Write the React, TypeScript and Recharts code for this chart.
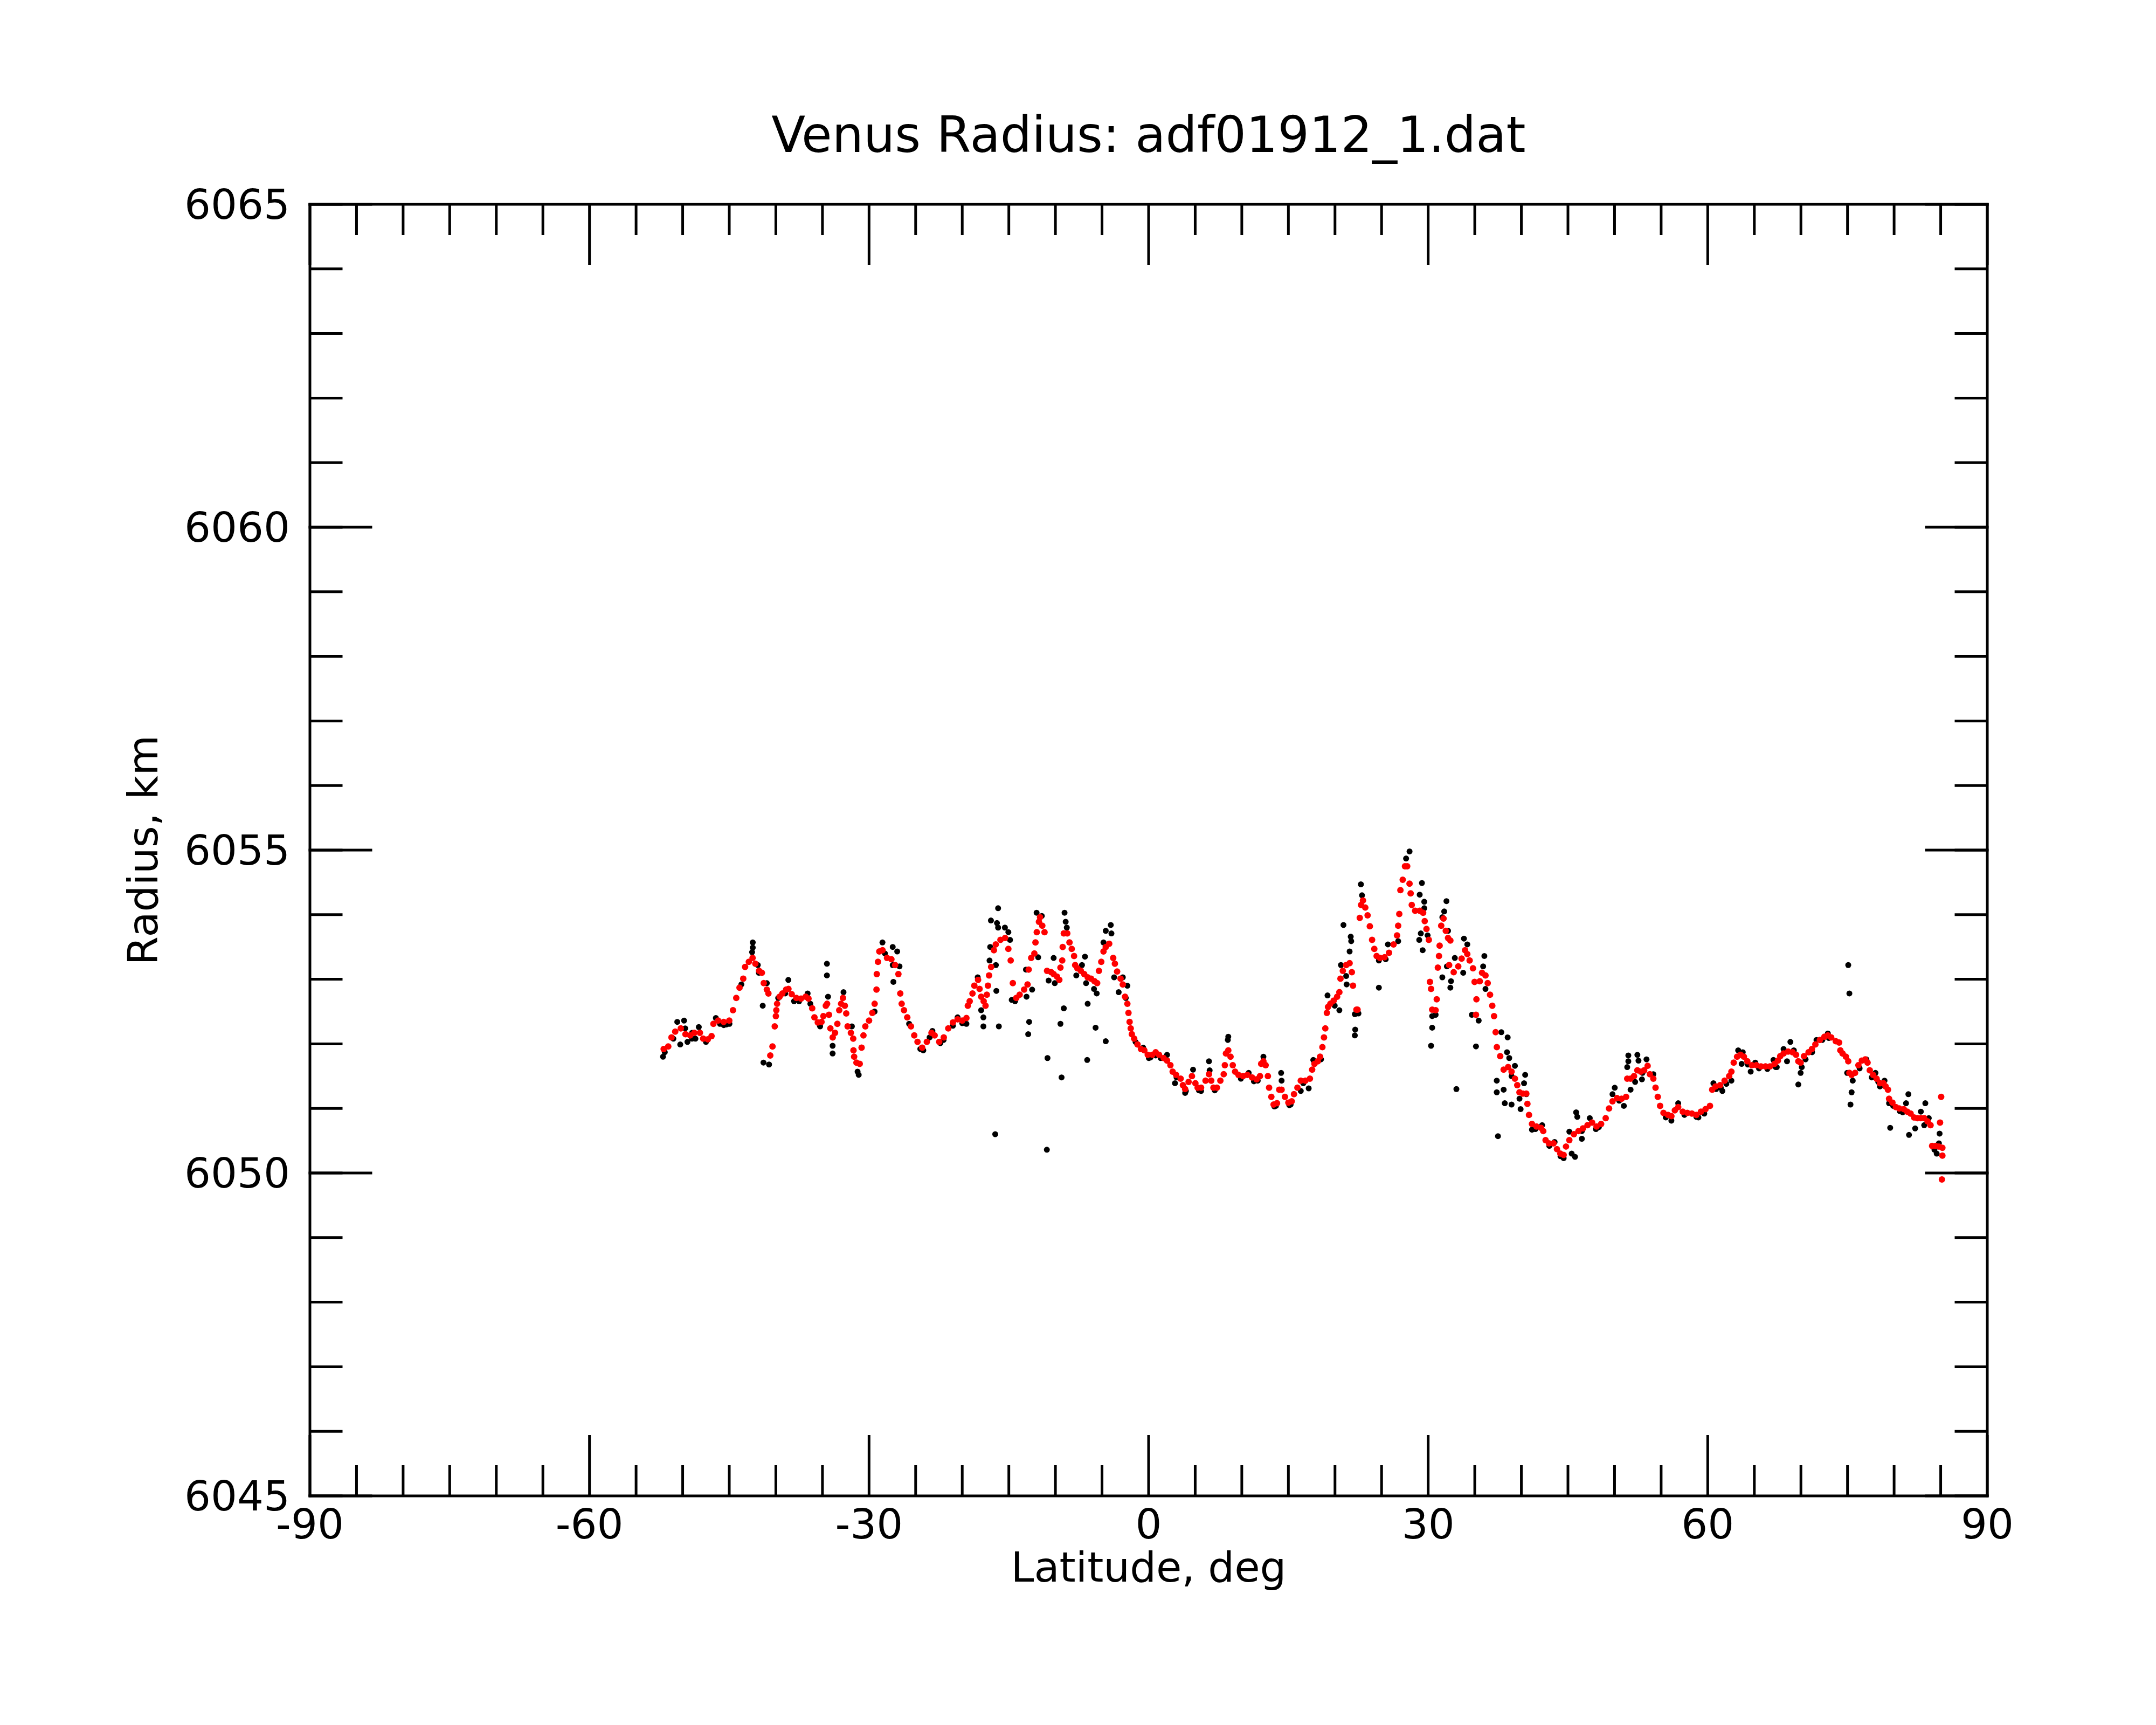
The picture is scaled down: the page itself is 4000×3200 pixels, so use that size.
import { Scatter, ScatterChart, XAxis, YAxis } from 'recharts';

// latitude (deg), radius (km)
const filteredPoints: [number, number][] = [
  [-52.04, 6051.92], [-51.55, 6051.96], [-51.2, 6052.1], [-50.8, 6052.19], [-50.2, 6052.24],
  [-49.7, 6052.15], [-49.2, 6052.13], [-48.75, 6052.17], [-48.15, 6052.17], [-47.8, 6052.08],
  [-47.3, 6052.07], [-46.9, 6052.12], [-46.7, 6052.31], [-46.2, 6052.36], [-45.6, 6052.34],
  [-45.0, 6052.36], [-44.6, 6052.52], [-44.25, 6052.71], [-43.9, 6052.87], [-43.5, 6053.01],
  [-43.3, 6053.19], [-42.9, 6053.27], [-42.5, 6053.33], [-42.2, 6053.24], [-41.8, 6053.13],
  [-41.5, 6053.1], [-41.3, 6052.94], [-40.97, 6052.84], [-40.8, 6052.78], [-40.6, 6051.82],
  [-40.36, 6051.96], [-40.12, 6052.27], [-40.0, 6052.43], [-39.95, 6052.52], [-39.87, 6052.62],
  [-39.6, 6052.73], [-39.3, 6052.78], [-38.9, 6052.84], [-38.65, 6052.85], [-38.3, 6052.77],
  [-37.8, 6052.71], [-37.3, 6052.7], [-36.8, 6052.73], [-36.5, 6052.7], [-36.1, 6052.55],
  [-35.86, 6052.41], [-35.5, 6052.33], [-35.1, 6052.34], [-34.9, 6052.43], [-34.64, 6052.59],
  [-34.5, 6052.62], [-34.3, 6052.45], [-34.15, 6052.24], [-33.9, 6052.1], [-33.65, 6052.17],
  [-33.4, 6052.31], [-33.2, 6052.52], [-33.0, 6052.62], [-32.8, 6052.71], [-32.6, 6052.59],
  [-32.45, 6052.47], [-32.3, 6052.27], [-31.95, 6052.17], [-31.7, 6052.08], [-31.67, 6051.9],
  [-31.6, 6051.8], [-31.35, 6051.71], [-31.0, 6051.69], [-30.8, 6051.94], [-30.6, 6052.13],
  [-30.4, 6052.27], [-30.0, 6052.36], [-29.65, 6052.48], [-29.4, 6052.62], [-29.2, 6052.84],
  [-29.17, 6053.08], [-29.04, 6053.27], [-28.9, 6053.43], [-28.55, 6053.45], [-28.07, 6053.33],
  [-27.6, 6053.31], [-27.2, 6053.22], [-26.85, 6053.08], [-26.65, 6052.78], [-26.5, 6052.62],
  [-26.25, 6052.52], [-25.9, 6052.41], [-25.5, 6052.27], [-25.15, 6052.13], [-24.8, 6052.03],
  [-24.3, 6051.94], [-23.8, 6052.03], [-23.3, 6052.17], [-22.96, 6052.13], [-22.47, 6052.03],
  [-21.98, 6052.1], [-21.5, 6052.24], [-21.0, 6052.33], [-20.5, 6052.38], [-20.0, 6052.36],
  [-19.55, 6052.4], [-19.4, 6052.59], [-19.2, 6052.66], [-18.9, 6052.78], [-18.7, 6052.9],
  [-18.3, 6052.99], [-18.14, 6052.85], [-17.97, 6052.73], [-17.7, 6052.66], [-17.5, 6052.59],
  [-17.36, 6052.76], [-17.24, 6052.9], [-17.12, 6053.06], [-16.9, 6053.19], [-16.6, 6053.45],
  [-16.4, 6053.54], [-15.9, 6053.61], [-15.4, 6053.64], [-15.05, 6053.47], [-14.8, 6053.29],
  [-14.57, 6052.94], [-14.2, 6052.71], [-13.84, 6052.76], [-13.36, 6052.84], [-12.99, 6052.92],
  [-12.87, 6053.15], [-12.6, 6053.33], [-12.26, 6053.4], [-12.14, 6053.57], [-12.0, 6053.73],
  [-11.77, 6053.89], [-11.65, 6053.96], [-11.41, 6053.83], [-11.17, 6053.73], [-10.9, 6053.13],
  [-10.45, 6053.11], [-10.19, 6053.08], [-9.83, 6053.04], [-9.58, 6052.99], [-9.46, 6053.18],
  [-9.27, 6053.29], [-9.22, 6053.5], [-9.1, 6053.71], [-8.73, 6053.71], [-8.49, 6053.57],
  [-8.25, 6053.47], [-8.0, 6053.36], [-7.88, 6053.22], [-7.64, 6053.17], [-7.27, 6053.13],
  [-6.91, 6053.08], [-6.54, 6053.03], [-6.18, 6053.01], [-5.81, 6052.97], [-5.52, 6052.94],
  [-5.33, 6053.13], [-5.08, 6053.27], [-4.84, 6053.43], [-4.6, 6053.5], [-4.23, 6053.55],
  [-3.8, 6053.33], [-3.62, 6053.24], [-3.38, 6053.12], [-3.01, 6053.01], [-2.77, 6052.92],
  [-2.53, 6052.73], [-2.28, 6052.62], [-2.16, 6052.48], [-2.04, 6052.34], [-1.92, 6052.24],
  [-1.8, 6052.15], [-1.55, 6052.08], [-1.19, 6051.99], [-0.82, 6051.92], [-0.46, 6051.9],
  [-0.09, 6051.83], [0.4, 6051.83], [0.76, 6051.87], [1.12, 6051.83], [1.61, 6051.78],
  [1.98, 6051.74], [2.34, 6051.67], [2.58, 6051.57], [2.95, 6051.52], [3.44, 6051.46],
  [3.68, 6051.36], [3.92, 6051.3], [4.29, 6051.41], [4.65, 6051.5], [5.02, 6051.39],
  [5.26, 6051.32], [5.63, 6051.32], [6.11, 6051.43], [6.48, 6051.53], [6.72, 6051.43],
  [6.96, 6051.32], [7.33, 6051.32], [7.7, 6051.43], [8.06, 6051.53], [8.18, 6051.67],
  [8.3, 6051.85], [8.55, 6051.9], [8.79, 6051.8], [9.03, 6051.67], [9.28, 6051.57],
  [9.64, 6051.52], [10.13, 6051.5], [10.6, 6051.52], [11.1, 6051.48], [11.59, 6051.45],
  [11.95, 6051.5], [12.08, 6051.69], [12.32, 6051.73], [12.56, 6051.67], [12.8, 6051.5],
  [12.93, 6051.32], [13.17, 6051.18], [13.41, 6051.06], [13.78, 6051.08], [14.02, 6051.29],
  [14.27, 6051.29], [14.63, 6051.18], [15.0, 6051.09], [15.36, 6051.11], [15.6, 6051.22],
  [15.97, 6051.32], [16.33, 6051.43], [16.82, 6051.43], [17.31, 6051.46], [17.55, 6051.6],
  [17.8, 6051.69], [18.16, 6051.73], [18.4, 6051.8], [18.65, 6051.95], [18.82, 6052.1],
  [18.96, 6052.24], [19.13, 6052.48], [19.25, 6052.57], [19.5, 6052.62], [19.86, 6052.67],
  [20.23, 6052.73], [20.47, 6052.8], [20.59, 6053.01], [20.84, 6053.13], [21.2, 6053.22],
  [21.57, 6053.25], [21.81, 6053.11], [21.93, 6052.9], [22.3, 6052.53], [22.42, 6052.53],
  [22.66, 6053.95], [22.8, 6054.15], [23.0, 6054.22], [23.25, 6054.11], [23.5, 6053.99],
  [23.74, 6053.82], [23.98, 6053.61], [24.22, 6053.47], [24.47, 6053.36], [24.83, 6053.33],
  [25.32, 6053.34], [25.8, 6053.41], [26.29, 6053.54], [26.66, 6053.68], [26.78, 6053.83],
  [26.9, 6054.01], [27.02, 6054.38], [27.27, 6054.54], [27.51, 6054.75], [27.75, 6054.75],
  [28.0, 6054.48], [28.12, 6054.33], [28.24, 6054.15], [28.6, 6054.06], [29.09, 6054.06],
  [29.46, 6054.03], [29.63, 6053.9], [29.82, 6053.78], [30.07, 6053.61], [30.19, 6052.96],
  [30.31, 6052.85], [30.43, 6052.53], [30.8, 6052.52], [30.92, 6052.69], [31.04, 6053.18],
  [31.16, 6053.36], [31.23, 6053.52], [31.4, 6053.83], [31.65, 6053.94], [31.89, 6053.75],
  [32.13, 6053.64], [32.38, 6053.6], [32.25, 6053.22], [32.74, 6053.11], [33.23, 6053.2],
  [33.59, 6053.32], [33.96, 6053.45], [34.2, 6053.39], [34.45, 6053.29], [34.81, 6053.17],
  [34.98, 6052.96], [35.18, 6052.69], [35.13, 6052.45], [35.54, 6052.97], [35.78, 6053.1],
  [36.15, 6053.06], [36.39, 6052.94], [36.64, 6052.76], [36.88, 6052.59], [37.07, 6052.43],
  [37.24, 6052.18], [37.37, 6051.95], [37.73, 6051.81], [38.1, 6051.6], [38.58, 6051.64],
  [38.95, 6051.57], [39.31, 6051.46], [39.56, 6051.36], [39.8, 6051.25], [40.16, 6051.23],
  [40.53, 6051.23], [40.65, 6051.07], [40.82, 6050.9], [41.14, 6050.76], [41.62, 6050.72],
  [42.11, 6050.7], [42.35, 6050.65], [42.6, 6050.51], [42.96, 6050.46], [43.45, 6050.46],
  [43.82, 6050.37], [44.18, 6050.3], [44.54, 6050.28], [44.79, 6050.41], [45.15, 6050.51],
  [45.64, 6050.6], [46.13, 6050.65], [46.61, 6050.69], [47.1, 6050.74], [47.59, 6050.78],
  [48.07, 6050.72], [48.56, 6050.76], [49.05, 6050.85], [49.41, 6051.0], [49.78, 6051.11],
  [50.26, 6051.16], [50.75, 6051.15], [51.24, 6051.18], [51.36, 6051.46], [51.72, 6051.46],
  [52.09, 6051.5], [52.45, 6051.59], [52.82, 6051.57], [53.18, 6051.59], [53.55, 6051.66],
  [53.79, 6051.53], [54.16, 6051.46], [54.4, 6051.32], [54.64, 6051.18], [54.89, 6051.04],
  [55.25, 6050.93], [55.74, 6050.9], [56.1, 6050.88], [56.47, 6050.97], [56.83, 6051.02],
  [57.32, 6050.95], [57.81, 6050.93], [58.3, 6050.92], [58.78, 6050.9], [59.27, 6050.95],
  [59.76, 6050.99], [60.24, 6051.04], [60.48, 6051.29], [60.84, 6051.34], [61.33, 6051.36],
  [61.81, 6051.43], [62.3, 6051.5], [62.54, 6051.57], [62.79, 6051.71], [63.15, 6051.8],
  [63.52, 6051.83], [63.88, 6051.8], [64.25, 6051.73], [64.73, 6051.67], [65.22, 6051.67],
  [65.71, 6051.65], [66.2, 6051.65], [66.68, 6051.65], [67.17, 6051.69], [67.53, 6051.74],
  [67.78, 6051.81], [68.14, 6051.85], [68.63, 6051.88], [69.11, 6051.87], [69.48, 6051.83],
  [69.72, 6051.73], [69.97, 6051.71], [70.33, 6051.81], [70.82, 6051.87], [71.18, 6051.92],
  [71.55, 6051.99], [72.03, 6052.06], [72.52, 6052.11], [72.89, 6052.13], [73.25, 6052.1],
  [73.74, 6052.04], [74.1, 6052.02], [74.23, 6051.9], [74.47, 6051.85], [74.83, 6051.8],
  [75.08, 6051.73], [75.2, 6051.55], [75.44, 6051.52], [75.81, 6051.55], [76.17, 6051.67],
  [76.54, 6051.74], [76.9, 6051.76], [77.15, 6051.71], [77.39, 6051.59], [77.75, 6051.52],
  [78.12, 6051.46], [78.48, 6051.39], [78.85, 6051.39], [79.09, 6051.34], [79.34, 6051.29],
  [79.46, 6051.15], [79.82, 6051.09], [80.19, 6051.02], [80.55, 6051.0], [81.04, 6050.99],
  [81.41, 6050.95], [81.77, 6050.92], [82.14, 6050.86], [82.5, 6050.85], [82.87, 6050.85],
  [83.23, 6050.85], [83.6, 6050.8], [83.91, 6050.74], [84.08, 6050.42], [84.45, 6050.42],
  [84.81, 6050.41], [85.05, 6051.18], [84.93, 6050.78], [85.18, 6050.39], [85.18, 6050.27],
  [85.13, 6049.9],
];

const rawPoints: [number, number][] = [
  [-52.11, 6051.8], [-51.92, 6051.87], [-51.0, 6052.08], [-50.58, 6052.34], [-49.85, 6052.36],
  [-50.26, 6051.99], [-49.49, 6052.03], [-49.73, 6052.24], [-48.99, 6052.17], [-49.0, 6052.08],
  [-48.27, 6052.26], [-48.63, 6052.08], [-47.5, 6052.03], [-46.44, 6052.4], [-46.0, 6052.31],
  [-45.59, 6052.29], [-45.3, 6052.3], [-44.98, 6052.31], [-43.7, 6052.92], [-42.48, 6053.57],
  [-42.48, 6053.49], [-42.55, 6053.42], [-41.94, 6053.22], [-41.82, 6053.1], [-40.97, 6052.94],
  [-41.41, 6052.59], [-41.33, 6051.71], [-40.73, 6051.68], [-39.75, 6052.71], [-39.0, 6052.78],
  [-38.66, 6052.99], [-38.05, 6052.66], [-37.5, 6052.66], [-36.59, 6052.78], [-36.3, 6052.62],
  [-35.3, 6052.29], [-35.25, 6052.27], [-34.52, 6053.24], [-34.52, 6053.06], [-34.4, 6052.73],
  [-33.91, 6051.97], [-33.91, 6051.85], [-32.74, 6052.8], [-31.84, 6052.27], [-31.23, 6051.57],
  [-31.11, 6051.52], [-29.41, 6052.5], [-28.56, 6053.57], [-28.3, 6053.4], [-27.46, 6053.5],
  [-26.98, 6053.43], [-27.46, 6053.22], [-27.39, 6052.96], [-26.73, 6053.2], [-25.7, 6052.31],
  [-24.5, 6051.92], [-24.18, 6051.9], [-23.5, 6052.1], [-23.2, 6052.2], [-22.35, 6052.01],
  [-22.0, 6052.06], [-21.0, 6052.28], [-20.5, 6052.41], [-20.0, 6052.32], [-19.55, 6052.31],
  [-18.34, 6053.03], [-17.97, 6052.52], [-17.73, 6052.41], [-17.73, 6052.27], [-17.0, 6053.5],
  [-17.07, 6053.29], [-16.39, 6053.22], [-16.92, 6053.91], [-16.15, 6054.1], [-16.27, 6053.87],
  [-16.15, 6053.8], [-15.42, 6053.8], [-15.05, 6053.73], [-16.34, 6052.82], [-16.07, 6052.27],
  [-16.46, 6050.6], [-14.69, 6052.68], [-14.87, 6053.61], [-14.33, 6052.66], [-13.1, 6052.73],
  [-12.5, 6052.84], [-12.82, 6052.34], [-12.92, 6052.15], [-13.16, 6053.15], [-12.02, 6054.03],
  [-11.46, 6053.98], [-11.85, 6053.34], [-10.85, 6051.78], [-10.92, 6050.36], [-10.73, 6052.98],
  [-10.07, 6052.94], [-10.19, 6053.33], [-9.34, 6051.48], [-9.46, 6052.31], [-9.1, 6052.55],
  [-9.02, 6054.03], [-8.9, 6053.89], [-8.78, 6053.8], [-7.76, 6053.06], [-7.15, 6053.22],
  [-6.83, 6053.35], [-6.71, 6052.94], [-6.54, 6052.62], [-6.59, 6051.75], [-5.86, 6052.85],
  [-5.57, 6052.78], [-5.69, 6052.25], [-4.6, 6052.04], [-4.6, 6053.75], [-4.06, 6053.84],
  [-3.99, 6053.71], [-4.84, 6053.57], [-3.7, 6053.03], [-3.21, 6052.8], [-2.77, 6053.03],
  [-2.28, 6052.9], [-2.45, 6052.71], [-1.4, 6052.03], [-0.58, 6051.94], [0.03, 6051.78],
  [0.2, 6051.79], [0.76, 6051.82], [1.3, 6051.78], [1.98, 6051.83], [2.83, 6051.39],
  [3.0, 6051.48], [3.92, 6051.24], [4.0, 6051.27], [4.77, 6051.6], [5.4, 6051.28],
  [5.63, 6051.27], [6.48, 6051.73], [6.55, 6051.59], [7.1, 6051.28], [7.21, 6051.31],
  [8.5, 6052.06], [8.55, 6052.11], [9.9, 6051.46], [10.74, 6051.55], [11.3, 6051.42],
  [11.71, 6051.43], [12.32, 6051.8], [13.5, 6051.03], [13.66, 6051.04], [14.22, 6051.55],
  [14.27, 6051.43], [15.1, 6051.05], [15.24, 6051.06], [16.33, 6051.27], [16.6, 6051.39],
  [17.18, 6051.31], [17.67, 6051.75], [18.5, 6051.76], [19.2, 6052.75], [19.97, 6052.59],
  [20.47, 6052.52], [20.91, 6053.84], [21.69, 6053.66], [21.74, 6053.59], [21.57, 6053.43],
  [20.64, 6053.22], [21.2, 6053.05], [21.25, 6052.92], [22.13, 6052.46], [22.17, 6052.22],
  [22.13, 6052.13], [22.78, 6054.47], [22.9, 6054.3], [22.52, 6052.47], [24.71, 6052.87],
  [24.71, 6053.29], [25.44, 6053.31], [25.68, 6053.54], [26.78, 6053.59], [28.0, 6054.98],
  [27.63, 6054.87], [29.33, 6054.49], [29.09, 6054.31], [29.58, 6054.2], [29.58, 6054.1],
  [29.21, 6053.71], [29.04, 6053.61], [29.41, 6053.45], [29.94, 6053.68], [30.43, 6052.43],
  [30.8, 6052.45], [30.43, 6052.25], [30.31, 6051.97], [31.96, 6054.21], [31.72, 6054.05],
  [31.52, 6053.96], [32.13, 6053.75], [31.52, 6053.03], [32.01, 6053.2], [32.38, 6052.87],
  [32.45, 6052.97], [32.86, 6053.33], [33.03, 6051.3], [33.84, 6053.63], [34.2, 6053.54],
  [33.76, 6053.1], [36.03, 6053.36], [35.9, 6053.2], [36.15, 6052.85], [34.69, 6052.45],
  [35.42, 6052.36], [35.13, 6051.96], [37.49, 6050.57], [37.36, 6051.43], [37.36, 6051.25],
  [37.85, 6052.18], [38.53, 6052.1], [38.46, 6051.87], [38.7, 6051.78], [38.1, 6051.29],
  [38.22, 6051.08], [38.95, 6051.06], [39.31, 6051.66], [38.95, 6051.5], [39.8, 6051.15],
  [39.92, 6050.99], [40.41, 6051.52], [40.29, 6051.39], [40.53, 6051.22], [41.14, 6050.67],
  [41.5, 6050.68], [42.23, 6050.74], [43.0, 6050.42], [43.57, 6050.48], [44.2, 6050.26],
  [44.54, 6050.23], [45.4, 6050.3], [45.76, 6050.25], [45.15, 6050.64], [45.88, 6050.94],
  [46.0, 6050.87], [46.49, 6050.53], [46.5, 6050.65], [47.34, 6050.85], [48.0, 6050.68],
  [48.32, 6050.71], [49.78, 6051.22], [50.02, 6051.32], [50.5, 6051.12], [51.0, 6051.04],
  [51.48, 6051.82], [51.48, 6051.73], [51.36, 6051.64], [52.45, 6051.83], [52.57, 6051.74],
  [53.43, 6051.76], [52.21, 6051.41], [51.72, 6051.29], [52.94, 6051.45], [53.0, 6051.55],
  [54.16, 6051.53], [55.5, 6050.86], [56.1, 6050.81], [56.83, 6051.08], [57.5, 6050.9],
  [58.78, 6050.87], [59.0, 6050.86], [59.63, 6050.92], [60.61, 6051.39], [60.9, 6051.3],
  [61.4, 6051.32], [61.57, 6051.27], [62.0, 6051.38], [62.54, 6051.43], [63.27, 6051.9],
  [63.76, 6051.87], [63.64, 6051.69], [64.3, 6051.68], [64.61, 6051.57], [65.1, 6051.71],
  [65.5, 6051.62], [66.4, 6051.61], [67.05, 6051.75], [67.3, 6051.64], [67.41, 6051.64],
  [68.14, 6051.92], [68.51, 6051.73], [68.87, 6052.03], [69.24, 6051.9], [69.97, 6051.55],
  [69.72, 6051.37], [70.09, 6051.64], [70.5, 6051.76], [71.2, 6051.87], [71.67, 6052.06],
  [72.3, 6052.06], [72.89, 6052.16], [73.0, 6052.09], [75.08, 6053.22], [75.2, 6052.78],
  [74.96, 6051.55], [75.44, 6051.25], [75.32, 6051.06], [75.56, 6051.43], [76.3, 6051.62],
  [77.02, 6051.76], [77.6, 6051.48], [78.0, 6051.55], [78.3, 6051.41], [78.48, 6051.34],
  [78.97, 6051.43], [79.58, 6050.7], [79.46, 6051.08], [79.9, 6051.04], [80.6, 6050.96],
  [80.92, 6050.94], [81.53, 6051.22], [81.28, 6051.08], [81.6, 6050.59], [82.26, 6050.69],
  [82.87, 6050.95], [83.35, 6051.08], [83.23, 6050.74], [83.72, 6050.85], [84.88, 6050.61],
  [84.81, 6050.46], [84.57, 6050.3], [84.33, 6050.36],
];

const latTicks = [-90, -60, -30, 0, 30, 60, 90];
const latMinorTicks = [
  -90, -85, -80, -75, -70, -65, -60, -55, -50, -45, -40, -35, -30, -25, -20, -15, -10, -5, 0,
  5, 10, 15, 20, 25, 30, 35, 40, 45, 50, 55, 60, 65, 70, 75, 80, 85, 90,
];
const radiusTicks = [6045, 6050, 6055, 6060, 6065];
const radiusMinorTicks = [
  6045, 6046, 6047, 6048, 6049, 6050, 6051, 6052, 6053, 6054, 6055, 6056, 6057, 6058, 6059,
  6060, 6061, 6062, 6063, 6064, 6065,
];

const filtered = filteredPoints.map(([lat, radius]) => ({ lat, radius }));
const raw = rawPoints.map(([lat, radius]) => ({ lat, radius }));

const FONT = 'DejaVu Sans';
const MARGIN = { top: 379, right: 313, bottom: 225, left: 175 };
const X_TICK_MARGIN = 24;
const MINOR_LEN = 57;
const MAJOR_LEN = 113;
const ink = { stroke: '#000', strokeWidth: 5, strokeLinecap: 'square' as const };
const tickFont = { fill: '#000', fontSize: 77, fontFamily: FONT };
const noLabel = () => <g />;

// bottom axis tick: inward tick marks on both frame edges, label on the majors
const LatTick = (props: any) => {
  const { x, y, payload } = props;
  const value = payload.value as number;
  const major = latTicks.includes(value);
  const len = major ? MAJOR_LEN : MINOR_LEN;
  const bottom = y - X_TICK_MARGIN;
  const top = MARGIN.top;
  return (
    <g>
      <line x1={x} x2={x} y1={bottom} y2={bottom - len} stroke="#000" strokeWidth={5} />
      <line x1={x} x2={x} y1={top} y2={top + len} stroke="#000" strokeWidth={5} />
      {major && (
        <text x={x} y={y} dy="0.71em" textAnchor="middle" fontSize={77} fontFamily={FONT} fill="#000">
          {value}
        </text>
      )}
    </g>
  );
};

const radiusLabel = (props: any) => {
  const vb = props.viewBox ?? { x: 175, y: 379, width: 400, height: 2396 };
  const cx = vb.x + 117;
  const cy = vb.y + vb.height / 2;
  return (
    <text
      x={cx}
      y={cy}
      transform={`rotate(-90 ${cx} ${cy})`}
      textAnchor="middle"
      fontSize={77}
      fontFamily={FONT}
      fill="#000"
    >
      Radius, km
    </text>
  );
};

const dot = (r: number, color: string) => (p: any) => (
  <circle cx={p.cx} cy={p.cy} r={r} fill={color} />
);

export default function App() {
  return (
    <div
      style={{
        position: 'absolute',
        left: 0,
        top: 0,
        width: 4000,
        height: 3200,
        background: '#fff',
        fontFamily: FONT,
      }}
    >
      <ScatterChart width={4000} height={3200} margin={MARGIN}>
        <XAxis
          xAxisId="lat"
          dataKey="lat"
          type="number"
          domain={[-90, 90]}
          allowDataOverflow
          ticks={latMinorTicks}
          interval={0}
          height={200}
          stroke="#000"
          axisLine={ink}
          tickLine={false}
          tickSize={0}
          tickMargin={X_TICK_MARGIN}
          tick={LatTick}
          label={{ value: 'Latitude, deg', position: 'insideBottom', offset: 41, fontSize: 77, fill: '#000', fontFamily: FONT }}
        />
        <XAxis
          xAxisId="latTop"
          type="number"
          domain={[-90, 90]}
          allowDataOverflow
          ticks={latTicks}
          interval={0}
          orientation="top"
          mirror
          height={1}
          axisLine={ink}
          tickLine={false}
          tick={noLabel}
          label={{ value: 'Venus Radius: adf01912_1.dat', position: 'top', offset: 97, fontSize: 92, fill: '#000', fontFamily: FONT }}
        />

        <YAxis
          yAxisId="radius"
          dataKey="radius"
          type="number"
          domain={[6045, 6065]}
          allowDataOverflow
          ticks={radiusTicks}
          interval={0}
          width={400}
          stroke="#000"
          axisLine={ink}
          tickLine={false}
          tickSize={0}
          tickMargin={37}
          tick={tickFont}
          label={radiusLabel}
        />
        <YAxis yAxisId="radMinorL" type="number" domain={[6045, 6065]} allowDataOverflow ticks={radiusMinorTicks} interval={0}
          orientation="left" mirror width={1} axisLine={false} tickLine={ink} tickSize={MINOR_LEN} tick={noLabel} />
        <YAxis yAxisId="radMajorL" type="number" domain={[6045, 6065]} allowDataOverflow ticks={radiusTicks} interval={0}
          orientation="left" mirror width={1} axisLine={false} tickLine={ink} tickSize={MAJOR_LEN} tick={noLabel} />
        <YAxis yAxisId="radMajorR" type="number" domain={[6045, 6065]} allowDataOverflow ticks={radiusTicks} interval={0}
          orientation="right" mirror width={1} axisLine={ink} tickLine={ink} tickSize={MAJOR_LEN} tick={noLabel} />
        <YAxis yAxisId="radMinorR" type="number" domain={[6045, 6065]} allowDataOverflow ticks={radiusMinorTicks} interval={0}
          orientation="right" mirror width={1} axisLine={false} tickLine={ink} tickSize={MINOR_LEN} tick={noLabel} />

        <Scatter
          xAxisId="lat"
          yAxisId="radius"
          data={raw}
          fill="#000"
          isAnimationActive={false}
          shape={dot(5.5, '#000')}
        />
        <Scatter
          xAxisId="lat"
          yAxisId="radius"
          data={filtered}
          fill="#ff0000"
          isAnimationActive={false}
          shape={dot(6, '#ff0000')}
        />
      </ScatterChart>
    </div>
  );
}
